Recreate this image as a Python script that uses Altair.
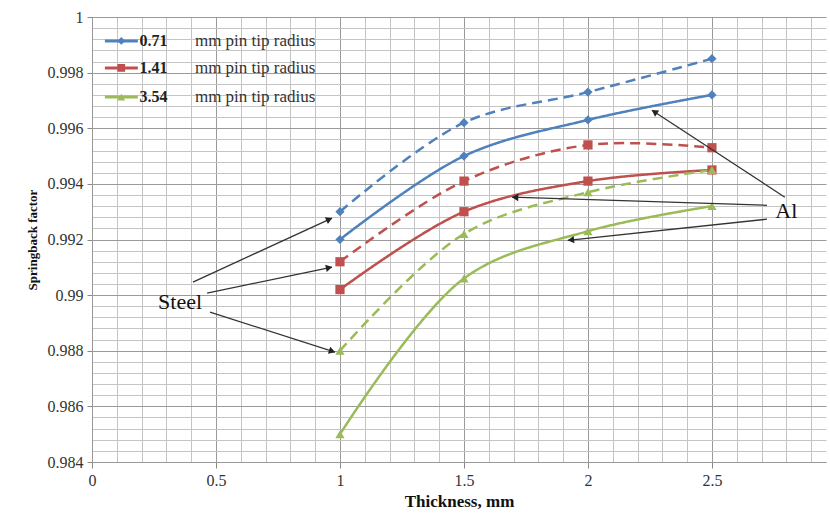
import math
import altair as alt
import pandas as pd

# ---- data -------------------------------------------------------------
thickness = [1.0, 1.5, 2.0, 2.5]

al_071 = [0.9920, 0.9950, 0.9963, 0.9972]
al_141 = [0.9902, 0.9930, 0.9941, 0.9945]
al_354 = [0.9850, 0.9906, 0.9923, 0.9932]

steel_071 = [0.9930, 0.9962, 0.9973, 0.9985]
steel_141 = [0.9912, 0.9941, 0.9954, 0.9953]
steel_354 = [0.9880, 0.9922, 0.9937, 0.9945]

radii = ["0.71", "1.41", "3.54"]
colors = ["#4F81BD", "#C0504D", "#9BBB59"]
shapes = ["diamond", "square", "triangle-up"]

x_ticks = [round(i * 0.1, 1) for i in range(0, 30)]
y_ticks = [round(0.984 + i * 0.0004, 4) for i in range(0, 41)]

# annotation text and arrows (data coordinates)
notes = pd.DataFrame({
    "label": ["Steel", "Al"],
    "x": [0.355, 2.80],
    "y": [0.98950, 0.99277],
})
arrows = pd.DataFrame({
    "x": [0.407, 0.464, 0.476, 2.794, 2.722, 2.722],
    "y": [0.99047, 0.99007, 0.98939, 0.99352, 0.99323, 0.99273],
    "x2": [0.968, 0.968, 0.980, 2.258, 1.694, 1.919],
    "y2": [0.99277, 0.99101, 0.98795, 0.99665, 0.99352, 0.99197],
})

# ---- geometry ---------------------------------------------------------
X_DOMAIN = [0, 2.96]
Y_DOMAIN = [0.984, 1.0]
W, H = 734, 445
sx = W / (X_DOMAIN[1] - X_DOMAIN[0])
sy = H / (Y_DOMAIN[1] - Y_DOMAIN[0])

# arrowhead orientation in screen space
angles, hx, hy = [], [], []
for r in arrows.itertuples():
    dx = (r.x2 - r.x) * sx
    dy = -(r.y2 - r.y) * sy
    a = math.atan2(dy, dx)
    angles.append(math.degrees(a) % 360)
    back = 3.0
    hx.append(r.x2 - back * math.cos(a) / sx)
    hy.append(r.y2 + back * math.sin(a) / sy)
heads = pd.DataFrame({"x": hx, "y": hy, "angle": angles})

# ---- long table -------------------------------------------------------
rows = []
for material, series in [("Al", [al_071, al_141, al_354]),
                         ("Steel", [steel_071, steel_141, steel_354])]:
    for rad, vals in zip(radii, series):
        for t, v in zip(thickness, vals):
            rows.append({"thickness": t, "value": v, "radius": rad,
                         "material": material, "series": f"{material}-{rad}"})
df = pd.DataFrame(rows)

FONT = "Liberation Serif"

x_major = "abs(datum.value*2 - round(datum.value*2)) < 0.001"
y_major = "abs(datum.value*500 - round(datum.value*500)) < 0.001"

x_axis = alt.Axis(
    values=x_ticks, tickCount=200,
    labelExpr=f"{x_major} ? format(datum.value, '') : ''",
    labelOverlap=False, labelBound=False, labelFlush=False,
    title="Thickness, mm",
    titleFont=FONT, titleFontSize=17, titleFontWeight="bold", titleColor="#111",
    titlePadding=5,
    labelFont=FONT, labelFontSize=16, labelColor="#333", labelPadding=4,
    gridColor={"condition": {"test": x_major, "value": "#9a9a9a"}, "value": "#c4c4c4"},
    gridWidth=1,
    tickColor="#888", tickSize=6,
    tickOpacity={"condition": {"test": x_major, "value": 1}, "value": 0},
    domainColor="#999",
)
y_axis = alt.Axis(
    values=y_ticks, tickCount=200,
    labelExpr=f"{y_major} ? format(datum.value, '') : ''",
    labelOverlap=False, labelBound=False, labelFlush=False,
    title="Springback factor",
    titleFont=FONT, titleFontSize=13, titleFontWeight="bold", titleColor="#111",
    titlePadding=8,
    labelFont=FONT, labelFontSize=16, labelColor="#333", labelPadding=4,
    gridColor={"condition": {"test": y_major, "value": "#9a9a9a"}, "value": "#c4c4c4"},
    gridWidth=1,
    tickColor="#888", tickSize=5,
    tickOpacity={"condition": {"test": y_major, "value": 1}, "value": 0},
    domainColor="#999",
)

xs = alt.Scale(domain=X_DOMAIN, nice=False, zero=False)
ys = alt.Scale(domain=Y_DOMAIN, nice=False, zero=False)
color = alt.Color("radius:N", scale=alt.Scale(domain=radii, range=colors), legend=None)

base = alt.Chart(df)

lines = base.mark_line(interpolate="catmull-rom", strokeWidth=2.5).encode(
    x=alt.X("thickness:Q", scale=xs, axis=x_axis),
    y=alt.Y("value:Q", scale=ys, axis=y_axis),
    color=color,
    strokeDash=alt.StrokeDash("material:N",
                              scale=alt.Scale(domain=["Al", "Steel"], range=[[1, 0], [10, 6]]),
                              legend=None),
    detail="series:N",
)

points = base.mark_point(filled=True, opacity=1, size=85).encode(
    x=alt.X("thickness:Q", scale=xs),
    y=alt.Y("value:Q", scale=ys),
    color=color,
    shape=alt.Shape("radius:N", scale=alt.Scale(domain=radii, range=shapes), legend=None),
)

arrow_lines = alt.Chart(arrows).mark_rule(color="#333", strokeWidth=1.3).encode(
    x=alt.X("x:Q", scale=xs), y=alt.Y("y:Q", scale=ys), x2="x2:Q", y2="y2:Q",
)
arrow_heads = alt.Chart(heads).mark_point(
    shape="triangle-right", filled=True, color="#222", size=55, opacity=1
).encode(
    x=alt.X("x:Q", scale=xs), y=alt.Y("y:Q", scale=ys), angle=alt.Angle("angle:Q", scale=None),
)

note_text = alt.Chart(notes).mark_text(
    font=FONT, fontSize=22, color="#111", align="center", baseline="alphabetic"
).encode(x=alt.X("x:Q", scale=xs), y=alt.Y("y:Q", scale=ys), text="label:N")

# legend drawn inside the plot, top left
leg = pd.DataFrame({
    "radius": radii,
    "y": [0.99914, 0.99817, 0.99712],
    "x0": [0.052] * 3,
    "x1": [0.185] * 3,
    "xm": [0.118] * 3,
    "xn": [0.192] * 3,
    "xt": [0.415] * 3,
    "desc": ["mm pin tip radius"] * 3,
})
lbase = alt.Chart(leg)
leg_lines = lbase.mark_rule(strokeWidth=3).encode(
    x=alt.X("x0:Q", scale=xs), x2="x1:Q", y=alt.Y("y:Q", scale=ys), color=color,
)
leg_pts = lbase.mark_point(filled=True, opacity=1, size=60).encode(
    x=alt.X("xm:Q", scale=xs), y=alt.Y("y:Q", scale=ys), color=color,
    shape=alt.Shape("radius:N", scale=alt.Scale(domain=radii, range=shapes), legend=None),
)
leg_num = lbase.mark_text(font=FONT, fontSize=16, fontWeight="bold", color="#222",
                          align="left", baseline="middle").encode(
    x=alt.X("xn:Q", scale=xs), y=alt.Y("y:Q", scale=ys), text="radius:N",
)
leg_desc = lbase.mark_text(font=FONT, fontSize=17, color="#333",
                           align="left", baseline="middle").encode(
    x=alt.X("xt:Q", scale=xs), y=alt.Y("y:Q", scale=ys), text="desc:N",
)

chart = alt.layer(
    lines, points, arrow_lines, arrow_heads, note_text,
    leg_lines, leg_pts, leg_num, leg_desc,
).properties(
    width=W, height=H,
    autosize=alt.AutoSizeParams(type="none"),
    padding={"left": 92, "top": 17, "right": 4, "bottom": 55},
    background="white",
).configure_view(stroke=None)

chart.save("out.html", embed_options={"renderer": "svg", "actions": False})
